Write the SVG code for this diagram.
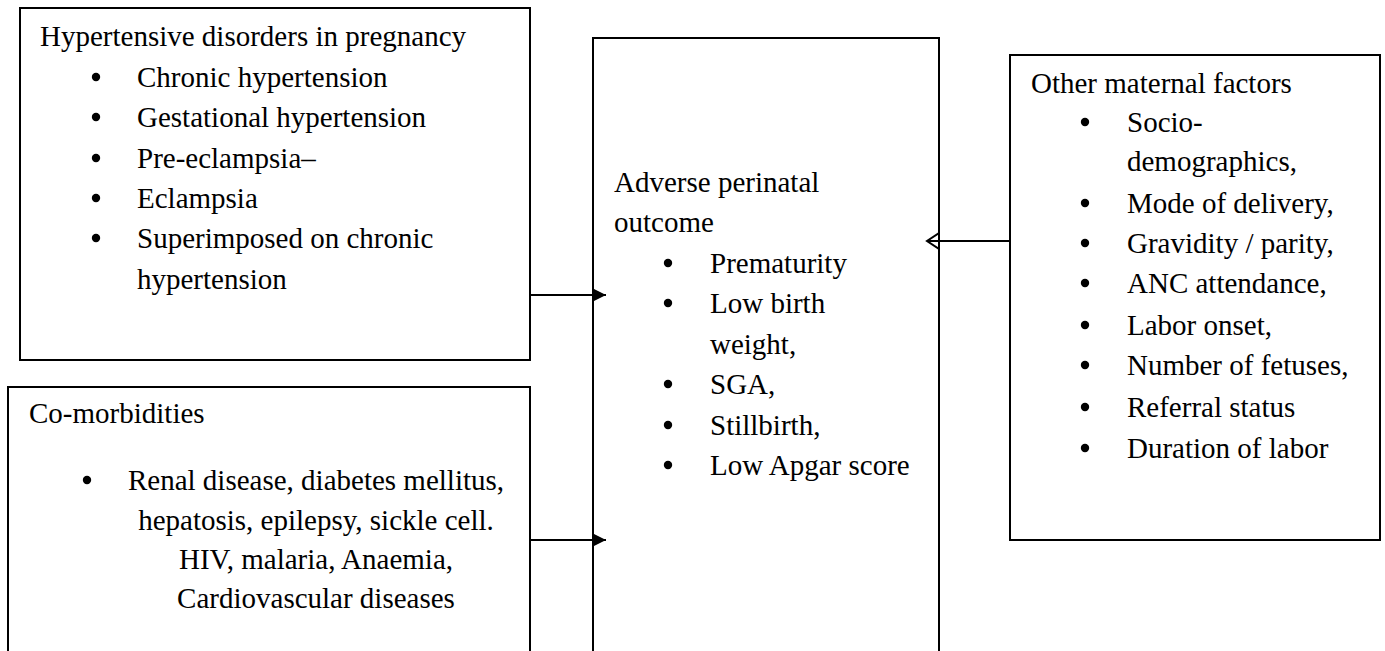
<svg xmlns="http://www.w3.org/2000/svg" width="1385" height="651" viewBox="0 0 1385 651">
<style>
.box{fill:#fff;stroke:#000;stroke-width:2}
text{font-family:"Liberation Serif","Times New Roman",serif;font-size:29px;fill:#000}
.mid{text-anchor:middle}
.b{fill:#000}
.con{stroke:#000;stroke-width:2;fill:none}
</style>
<defs>
<marker id="fill" markerWidth="16" markerHeight="14" refX="14" refY="7" orient="auto" markerUnits="userSpaceOnUse"><path d="M0,0 L14,7 L0,14 Z" fill="#000"/></marker>
<marker id="open" markerWidth="16" markerHeight="20" refX="12" refY="9" orient="auto" markerUnits="userSpaceOnUse"><path d="M0,1 L12,9 L0,17" fill="none" stroke="#000" stroke-width="2"/></marker>
</defs>
<rect width="1385" height="651" fill="#fff"/>
<g id="hypertensive">
<rect class="box" x="20" y="8" width="510" height="352"/>
<text x="40" y="46">Hypertensive disorders in pregnancy</text>
<circle class="b" cx="96" cy="77" r="4.2"/><text x="137" y="87">Chronic hypertension</text>
<circle class="b" cx="96" cy="117" r="4.2"/><text x="137" y="127">Gestational hypertension</text>
<circle class="b" cx="96" cy="158" r="4.2"/><text x="137" y="168">Pre-eclampsia–</text>
<circle class="b" cx="96" cy="198" r="4.2"/><text x="137" y="208">Eclampsia</text>
<circle class="b" cx="96" cy="238" r="4.2"/><text x="137" y="248">Superimposed on chronic</text>
<text x="137" y="289">hypertension</text>
</g>
<g id="comorbidities">
<rect class="box" x="8" y="387" width="522" height="280"/>
<text x="29" y="423">Co-morbidities</text>
<circle class="b" cx="87" cy="480" r="4.2"/>
<text class="mid" x="316" y="490">Renal disease, diabetes mellitus,</text>
<text class="mid" x="316" y="530">hepatosis, epilepsy, sickle cell.</text>
<text class="mid" x="316" y="569">HIV, malaria, Anaemia,</text>
<text class="mid" x="316" y="608">Cardiovascular diseases</text>
</g>
<g id="outcome">
<rect class="box" x="593" y="38" width="346" height="630"/>
<text x="614" y="192">Adverse perinatal</text>
<text x="614" y="232">outcome</text>
<circle class="b" cx="668" cy="263" r="4.2"/><text x="710" y="273">Prematurity</text>
<circle class="b" cx="668" cy="303" r="4.2"/><text x="710" y="313">Low birth</text>
<text x="710" y="354">weight,</text>
<circle class="b" cx="668" cy="384" r="4.2"/><text x="710" y="394">SGA,</text>
<circle class="b" cx="668" cy="425" r="4.2"/><text x="710" y="435">Stillbirth,</text>
<circle class="b" cx="668" cy="465" r="4.2"/><text x="710" y="475">Low Apgar score</text>
</g>
<g id="maternal">
<rect class="box" x="1010" y="55" width="370" height="485"/>
<text x="1031" y="93">Other maternal factors</text>
<circle class="b" cx="1085" cy="122" r="4.2"/><text x="1127" y="132">Socio-</text>
<text x="1127" y="171">demographics,</text>
<circle class="b" cx="1085" cy="203" r="4.2"/><text x="1127" y="213">Mode of delivery,</text>
<circle class="b" cx="1085" cy="243" r="4.2"/><text x="1127" y="253">Gravidity / parity,</text>
<circle class="b" cx="1085" cy="283" r="4.2"/><text x="1127" y="293">ANC attendance,</text>
<circle class="b" cx="1085" cy="325" r="4.2"/><text x="1127" y="335">Labor onset,</text>
<circle class="b" cx="1085" cy="365" r="4.2"/><text x="1127" y="375">Number of fetuses,</text>
<circle class="b" cx="1085" cy="407" r="4.2"/><text x="1127" y="417">Referral status</text>
<circle class="b" cx="1085" cy="448" r="4.2"/><text x="1127" y="458">Duration of labor</text>
</g>
<g id="connectors">
<line class="con" x1="530" y1="295" x2="606" y2="295" marker-end="url(#fill)"/>
<line class="con" x1="530" y1="540" x2="606" y2="540" marker-end="url(#fill)"/>
<line class="con" x1="1010" y1="241" x2="927" y2="241" marker-end="url(#open)"/>
</g>
</svg>
